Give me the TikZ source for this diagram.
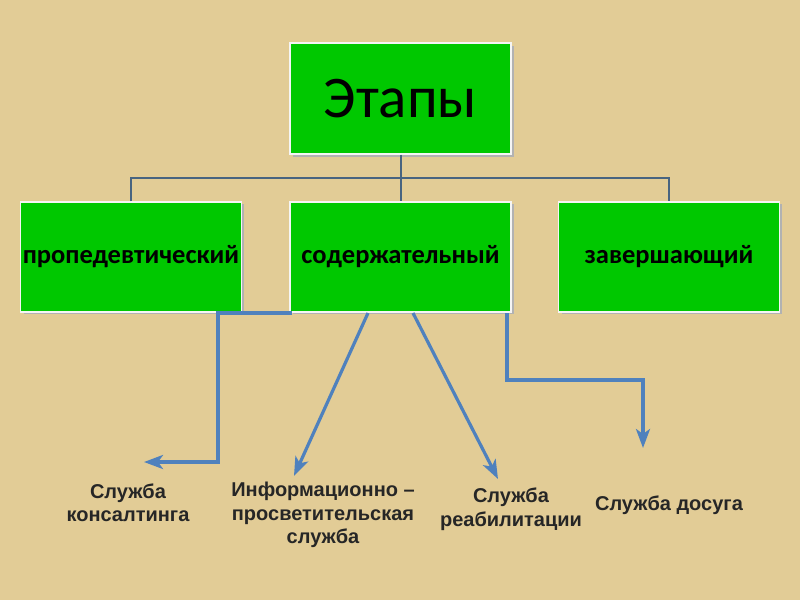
\documentclass[tikz,border=0pt]{standalone}
\usepackage{fontspec}
\setmainfont{Carlito}
\newfontfamily\labfont{Liberation Sans}
\usetikzlibrary{arrows.meta}
\definecolor{bg}{RGB}{226,204,150}
\definecolor{boxgreen}{RGB}{0,200,0}
\definecolor{treeline}{RGB}{72,100,128}
\definecolor{arrowblue}{RGB}{79,129,189}
\tikzset{
  stagebox/.style={draw=white!92!gray, line width=1.4pt, fill=boxgreen, minimum width=221pt, minimum height=110pt, inner sep=0pt, text=black},
  stagetext/.style={font=\bfseries\fontsize{26.5}{30}\selectfont},
  tree/.style={draw=treeline, line width=2pt},
  servarrow/.style={draw=arrowblue, line width=3.2pt, -{Stealth[length=19pt,width=14pt,inset=5pt]}},
  servlabel/.style={font=\labfont\bfseries\fontsize{20}{23.5}\selectfont, align=center, text=black!85, inner sep=0pt}
}
\begin{document}
\begin{tikzpicture}[x=1pt,y=-1pt]
\fill[bg] (0,0) rectangle (800,600);
\useasboundingbox (0,0) rectangle (800,600);
% shadows
\foreach \cx in {131,400.5,669} {\fill[black!30] (\cx-110+2.5,203.5) rectangle (\cx+110.5+2.5,313.5);}
\fill[black!30] (292.5,45.5) rectangle (513.5,156.5);
\node[stagebox, minimum height=111pt, font=\fontsize{59}{62}\selectfont] (top) at (400.5,98.5) {Этапы};
\node[stagebox, stagetext] (p) at (131,257) {пропедевтический};
\node[stagebox, stagetext] (s) at (400.5,257) {содержательный};
\node[stagebox, stagetext] (z) at (669,257) {завершающий};
\coordinate (j) at (400.5,178);
\draw[tree] (top.south) -- (j);
\draw[tree] (p.north) |- (j) -| (z.north);
\draw[tree] (j) -- (s.north);
% service labels
\node[servlabel] (l1) at (128,503) {Служба\\консалтинга};
\node[servlabel] (l2) at (323,515) {Информационно –\\просветительская\\служба};
\node[servlabel] (l3) at (511,509) {Служба\\реабилитации};
\node[servlabel] (l4) at (669,505) {Служба досуга};
\coordinate (a1s) at (292,313);
\coordinate (a1e) at (144,462);
\coordinate (a2s) at (368,313);
\coordinate (a2e) at (294,476);
\coordinate (a3s) at (413,313);
\coordinate (a3e) at (498,479);
\coordinate (a4s) at (507,313);
\coordinate (a4e) at (643,448);
\draw[servarrow] (a1s) -- (218,313) -- (218,462) -- (a1e);
\draw[servarrow] (a2s) -- (a2e);
\draw[servarrow] (a3s) -- (a3e);
\draw[servarrow] (a4s) -- (507,380) -- (643,380) -- (a4e);
\end{tikzpicture}
\end{document}
